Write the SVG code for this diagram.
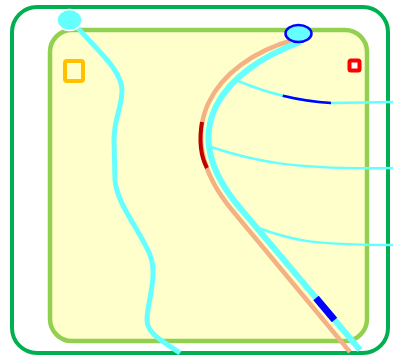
<svg xmlns="http://www.w3.org/2000/svg" width="393" height="357" viewBox="0 0 393 357">
  <style>
    .thin { fill: none; stroke: #66ffff; stroke-width: 2.5; stroke-linecap: butt; }
    .thick { fill: none; stroke: #66ffff; stroke-width: 6; }
  </style>
  <rect width="393" height="357" fill="#ffffff"/>
  <g id="outer">
    <rect x="12" y="7" width="376" height="346" rx="25" fill="#ffffff" stroke="#00b050" stroke-width="4"/>
  </g>
  <g id="inner">
    <rect x="50" y="30" width="317" height="311" rx="22" fill="#ffffcc" stroke="#92d050" stroke-width="4.5"/>
  </g>
  <g id="marker-orange">
    <rect x="65" y="61" width="18" height="20" rx="2" fill="none" stroke="#ffc000" stroke-width="4"/>
  </g>
  <g id="marker-red">
    <rect x="349.5" y="60.5" width="10" height="10" rx="1.5" fill="#ffffff" stroke="#ff0000" stroke-width="4"/>
  </g>
  <g id="connectors">
    <!-- left strand -->
    <path class="thick" style="stroke-width:5" d="M78,28 C95,48 122,70 122,90 C122,108 114,118 114,140 L115,180 C117,205 140,230 150,255 C158,275 148,300 147,318 C146,335 165,342 180,353"/>
    <!-- orange strand with dark red section -->
    <path fill="none" stroke="#f4b183" stroke-width="4.5" d="M293,40 C215,62 165.6,130 232,210 L350,352"/>
    <path fill="none" stroke="#c00000" stroke-width="4" d="M202,122 C199,140 200,155 207,168"/>
    <!-- thin branches -->
    <path class="thin" d="M236,80 Q282,100 331,103 L393,102"/>
    <path fill="none" stroke="#0000ff" stroke-width="2.5" d="M282.75,95.75 Q306.5,101.5 331,103"/>
    <path class="thin" d="M211,147 C250,160 290,170 393,168"/>
    <path class="thin" d="M256,227 C290,240 310,245 393,245"/>
    <!-- main cyan strand -->
    <path class="thick" d="M300,42 C225,70 172,128 240,208 L360,350"/>
    <path fill="none" stroke="#0000ff" stroke-width="7" d="M316,298 L334.5,320"/>
  </g>
  <g id="node-left">
    <ellipse cx="69.5" cy="20" rx="12.5" ry="10.5" fill="#66ffff" stroke="#ffffff" stroke-width="1.5"/>
  </g>
  <g id="node-top">
    <ellipse cx="298.5" cy="33.5" rx="13" ry="8.5" fill="#66ffff" stroke="#0000ff" stroke-width="2.5"/>
  </g>
</svg>
